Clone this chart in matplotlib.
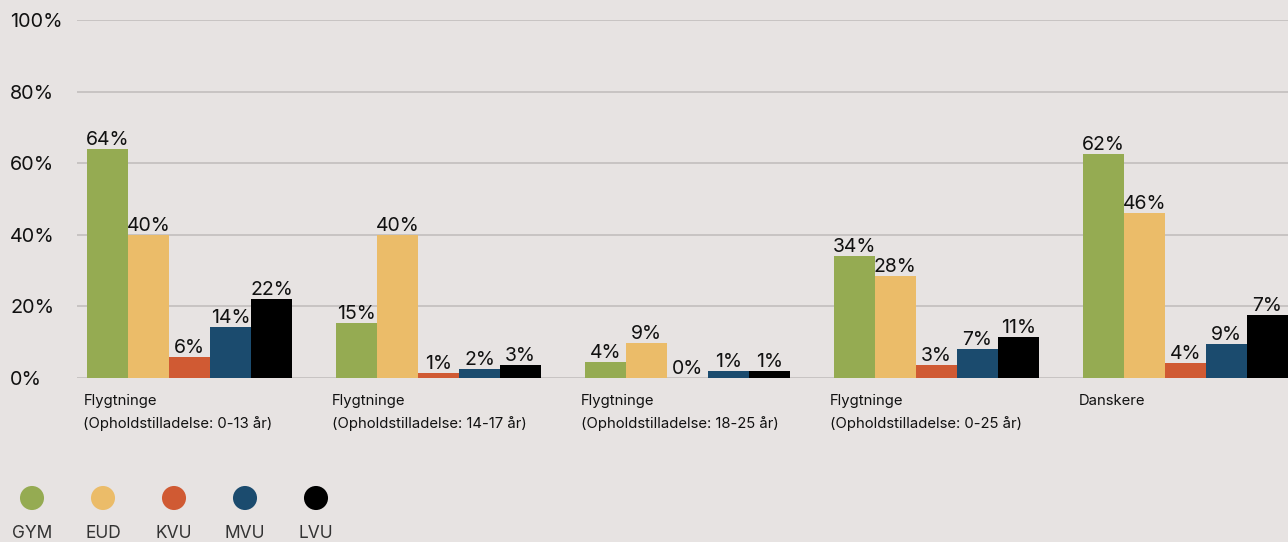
import numpy as np
import matplotlib.pyplot as plt

# Uddannelse fordelt paa grupper
groups = ['Flygtninge\n(Opholdstilladelse: 0-13 år)',
          'Flygtninge\n(Opholdstilladelse: 14-17 år)',
          'Flygtninge\n(Opholdstilladelse: 18-25 år)',
          'Flygtninge\n(Opholdstilladelse: 0-25 år)',
          'Danskere']
series = ['GYM', 'EUD', 'KVU', 'MVU', 'LVU']

gym = [64, 15.4, 4.5, 34.1, 62.6]
eud = [40, 40, 9.8, 28.5, 46]
kvu = [6, 1.5, 0, 3.6, 4.2]
mvu = [14.2, 2.5, 2, 8.1, 9.5]
lvu = [22, 3.7, 2, 11.5, 17.6]

gym_lbl = ['64%', '15%', '4%', '34%', '62%']
eud_lbl = ['40%', '40%', '9%', '28%', '46%']
kvu_lbl = ['6%', '1%', '0%', '3%', '4%']
mvu_lbl = ['14%', '2%', '1%', '7%', '9%']
lvu_lbl = ['22%', '3%', '1%', '11%', '7%']

values = [gym, eud, kvu, mvu, lvu]
labels = [gym_lbl, eud_lbl, kvu_lbl, mvu_lbl, lvu_lbl]
colors = ['#95ab52', '#ebbc69', '#d05a33', '#1b4b6e', '#000000']
bg = '#e7e3e2'

plt.rcParams['font.family'] = ['Inter', 'DejaVu Sans']

fig = plt.figure(figsize=(12.88, 5.42), dpi=100, facecolor=bg)
ax = fig.add_axes([77/1288, 1-378/542, 1-77/1288, 358/542])
ax.set_facecolor(bg)

x = np.arange(len(groups))
w = 0.165
for j in range(len(series)):
    bars = ax.bar(x + (j-2)*w, values[j], width=w, color=colors[j], zorder=3)
    ax.bar_label(bars, labels=labels[j], padding=0, fontsize=14, color='#111111')

ax.set_ylim(0, 100)
ax.set_xlim(-2.5*w - 10/249, 4 + 2.5*w)
ax.set_yticks([0, 20, 40, 60, 80, 100])
ax.set_yticklabels(['0%', '20%', '40%', '60%', '80%', '100%'])
ax.tick_params(axis='y', length=0, pad=48, labelsize=14.3, labelcolor='#111111')
for t in ax.get_yticklabels():
    t.set_ha('left')
ax.set_xticks([])
ax.yaxis.grid(True, color='#c5c1c0', lw=1.3)
ax.set_axisbelow(True)
for s in ax.spines.values():
    s.set_visible(False)

# kategori-tekster under grupperne
for i, g in enumerate(groups):
    ax.text(x[i] - 2.5*w - 0.015, -0.045, g, transform=ax.get_xaxis_transform(),
            ha='left', va='top', fontsize=10.7, color='#111111', linespacing=1.7)

# legend med cirkler
lax = fig.add_axes([0, 0, 1, 100/542])
lax.set_facecolor('none')
lax.set_xlim(-32/71, (1288-32)/71)
lax.set_ylim(0, 100)
lax.axis('off')
for j in range(len(series)):
    lax.scatter(j, 44, s=300, color=colors[j], edgecolors='none')
    lax.text(j, 9, series[j], ha='center', va='center', fontsize=12.5, color='#333333')

fig.savefig('out.png', dpi=100, facecolor=bg)
